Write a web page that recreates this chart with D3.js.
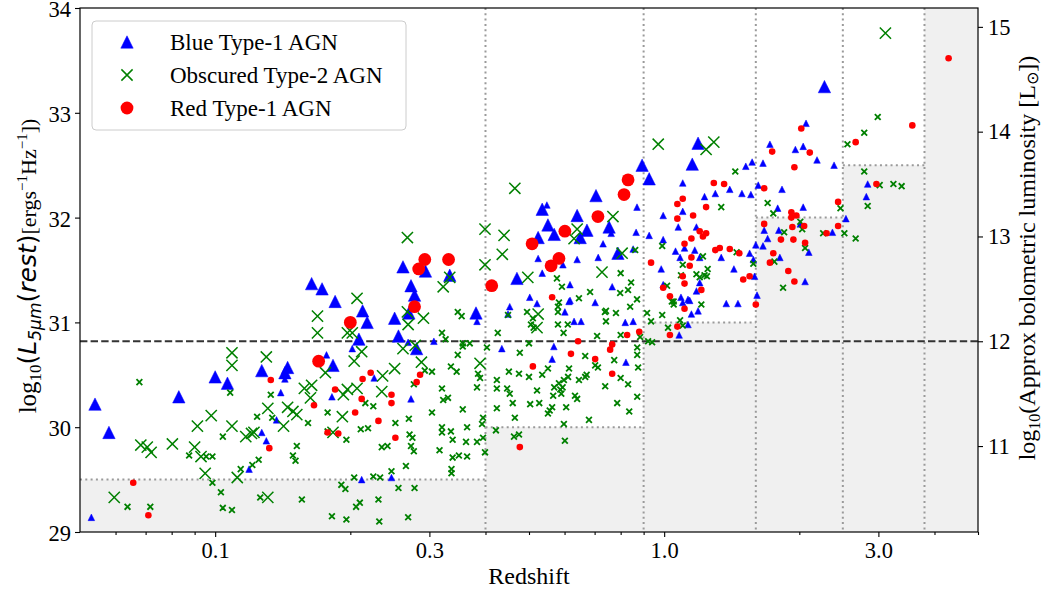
<!DOCTYPE html>
<html><head><meta charset="utf-8">
<script src="https://cdn.jsdelivr.net/npm/d3@7"></script>
<style>
body{margin:0;background:#fff}
text{font-family:"Liberation Serif","Times New Roman",serif;fill:#000}
</style>
</head><body>
<svg id="chart" width="1047" height="592"></svg>
<script>
// ---------------- DATA ----------------
const blueBigZ = [0.054,0.058,0.083,0.100,0.1065,0.127,0.145,0.143,0.164,0.173,0.185,0.183,0.209,0.213,0.218,0.251,0.256,0.262,0.270,0.273,0.278,0.281,0.294,0.333,0.381,0.470,0.535,0.551,0.569,0.524,0.640,0.673,0.650,0.705,0.754,0.789,0.893,0.926,1.155,1.19,2.275];
const blueBigL = [30.22,29.95,30.29,30.48,30.42,30.54,30.57,30.52,31.37,31.32,31.20,30.59,30.84,31.11,31.00,31.04,30.87,31.53,31.09,31.35,31.26,30.75,31.49,31.45,31.09,31.42,32.08,31.93,31.84,31.81,32.02,31.88,31.81,32.21,31.91,31.66,32.50,32.37,32.51,32.71,33.25];

const blueSmallZ = [0.053,0.140,0.143,0.137,0.127,0.130,0.119,0.177,0.182,0.202,0.226,0.273,0.269,0.212,0.247,0.307,0.383,0.453,0.449,0.521,0.601,0.614,0.630,0.653,0.702,0.568,0.563,0.435,0.819,0.853,0.822,1.10,1.14,1.19,1.15,1.13,1.08,1.375,1.46,0.548,0.524,0.535,0.595,0.640,0.731,0.713,0.762,0.853,0.870,0.866,0.766,0.617,0.502,0.617,0.926,0.995,0.995,1.075,1.10,1.10,1.06,1.085,1.11,1.17,1.18,1.18,1.09,1.13,1.20,0.985,0.995,1.20,1.23,1.30,1.40,1.49,1.56,1.52,1.57,1.66,1.62,1.83,1.72,1.96,2.04,2.07,2.19,2.39,1.34,1.43,1.55,1.58,1.59,1.60,1.61,1.67,1.70,1.66,1.79,1.80,1.81,2.04,2.01,2.10,2.06,2.37,2.54,2.84,2.82];
const blueSmallL = [29.14,30.33,30.46,30.07,29.95,29.87,29.60,30.69,30.29,30.75,30.47,30.27,30.81,29.50,29.52,30.82,31.01,31.15,31.08,31.18,31.10,31.20,31.01,31.01,31.19,30.77,30.65,30.75,31.00,31.01,30.62,31.19,31.21,31.11,31.08,30.98,30.88,31.18,31.18,32.12,31.61,31.47,31.55,31.60,31.75,31.62,31.85,31.70,32.10,31.86,31.34,31.36,31.24,31.21,31.83,32.02,31.79,31.91,32.33,32.06,31.68,31.62,31.71,31.69,31.91,31.30,31.24,31.22,31.62,31.51,31.36,31.38,32.20,32.23,32.27,32.23,32.22,32.49,32.53,32.52,32.31,32.27,32.70,32.65,32.68,32.90,32.55,32.50,31.62,31.51,31.66,31.60,31.44,31.74,31.26,31.88,31.80,31.73,32.09,31.88,31.62,32.10,31.94,31.67,31.39,31.86,31.99,32.32,32.20];

const greenBigZ = [0.0596,0.0683,0.0706,0.072,0.0803,0.090,0.093,0.0913,0.098,0.109,0.095,0.112,0.117,0.1205,0.122,0.109,0.109,0.130,0.131,0.131,0.145,0.149,0.152,0.142,0.158,0.164,0.163,0.176,0.183,0.192,0.193,0.197,0.207,0.204,0.212,0.202,0.169,0.169,0.235,0.236,0.251,0.262,0.269,0.291,0.288,0.389,0.524,0.521,0.268,0.207,0.197,0.322,0.333,0.268,0.279,0.399,0.399,0.465,0.440,0.436,0.497,0.640,0.630,0.769,0.727,0.806,0.97,1.29,1.24,3.11];
const greenBigL = [29.33,29.83,29.81,29.76,29.84,29.81,29.72,30.01,30.11,30.01,29.56,29.52,29.91,29.94,29.95,30.71,30.59,30.67,29.33,30.18,30.19,30.15,30.12,30.01,30.37,30.40,30.28,30.52,29.95,30.10,30.31,30.36,30.37,30.63,30.72,30.90,31.06,30.90,30.34,30.49,30.56,30.75,30.98,31.04,30.62,30.61,31.08,30.95,31.81,31.23,30.90,31.34,31.43,31.10,30.78,31.89,31.55,32.28,31.83,31.65,31.43,31.89,31.80,32.01,31.48,31.66,32.70,32.72,32.65,33.76];

const greenSmallZ = [0.0678,0.0638,0.0717,0.0875,0.0955,0.0986,0.0986,0.103,0.104,0.109,0.104,0.108,0.114,0.121,0.125,0.124,0.133,0.134,0.126,0.152,0.149,0.151,0.156,0.161,0.178,0.178,0.182,0.191,0.195,0.196,0.196,0.204,0.206,0.210,0.211,0.219,0.216,0.225,0.225,0.231,0.232,0.233,0.235,0.242,0.247,0.252,0.256,0.266,0.270,0.271,0.273,0.277,0.275,0.269,0.278,0.277,0.293,0.304,0.304,0.316,0.320,0.320,0.320,0.322,0.330,0.320,0.326,0.335,0.335,0.338,0.338,0.349,0.336,0.336,0.345,0.356,0.347,0.356,0.364,0.362,0.364,0.383,0.383,0.385,0.389,0.395,0.393,0.399,0.403,0.424,0.424,0.422,0.347,0.354,0.356,0.369,0.426,0.395,0.424,0.447,0.453,0.460,0.451,0.465,0.463,0.475,0.449,0.477,0.475,0.50,0.503,0.521,0.527,0.50,0.495,0.505,0.512,0.535,0.551,0.551,0.556,0.563,0.566,0.569,0.583,0.587,0.590,0.594,0.598,0.605,0.601,0.598,0.611,0.614,0.633,0.640,0.646,0.667,0.672,0.667,0.680,0.702,0.712,0.739,0.774,0.800,0.831,0.786,0.836,0.871,0.875,0.871,0.871,0.709,0.781,0.742,0.738,0.840,0.580,0.580,0.583,0.610,0.580,0.597,0.916,0.935,0.99,1.02,1.05,1.085,1.10,1.21,0.921,0.884,0.94,0.577,0.592,0.800,0.844,0.831,0.798,0.870,0.99,1.10,1.09,1.18,1.04,1.05,0.862,0.646,0.684,0.742,0.51,0.80,1.44,1.34,1.22,1.25,1.23,1.20,1.245,1.015,1.58,1.45,1.70,1.75,1.85,2.01,2.03,2.06,1.76,1.84,2.26,2.47,2.52,2.67,2.56,2.79,2.99,2.79,2.84,3.02,3.24,3.38];
const greenSmallL = [30.43,29.24,29.24,29.73,29.72,29.72,29.47,29.38,29.23,29.21,29.91,30.33,29.60,29.64,29.69,30.10,30.31,30.09,29.33,29.82,29.73,29.68,29.31,30.04,30.14,29.96,29.15,29.45,29.41,29.12,29.88,29.52,29.24,29.28,29.98,29.99,30.23,30.20,29.53,29.31,29.10,29.52,29.81,29.82,29.58,30.04,29.42,29.63,30.08,29.93,29.82,29.77,29.90,29.14,29.42,30.41,30.54,30.53,30.14,29.78,30.00,29.95,30.37,30.26,30.28,30.90,30.84,30.58,29.96,29.88,29.71,29.73,29.60,29.56,30.53,30.77,30.69,30.17,30.00,29.86,29.72,30.38,29.86,30.51,30.47,30.09,30.03,29.76,30.76,30.45,30.18,29.97,31.10,31.06,30.80,30.80,30.90,29.90,30.37,30.37,30.32,30.23,30.53,30.09,29.91,29.93,31.07,30.71,30.51,30.48,30.22,30.35,30.23,30.80,31.10,30.98,30.95,30.50,30.56,30.13,30.16,30.19,30.30,30.38,30.42,30.36,30.32,30.38,30.45,30.19,29.87,30.03,30.48,30.56,30.30,30.27,30.45,30.48,30.50,30.68,30.07,30.59,30.57,30.39,30.64,30.47,30.41,30.23,30.15,30.29,30.57,30.69,30.76,30.87,31.09,31.01,31.10,31.15,31.15,31.10,31.19,30.98,30.98,30.90,31.09,31.01,31.07,30.95,31.20,31.02,30.97,31.17,30.82,30.86,30.81,31.42,31.34,31.47,31.38,31.31,31.28,31.22,31.73,31.55,31.45,31.46,31.20,31.17,31.69,31.23,31.29,31.11,31.04,30.88,32.44,32.10,31.63,31.51,31.45,31.43,31.44,31.35,31.56,31.67,32.14,32.04,31.86,31.96,31.89,31.71,31.58,31.33,31.85,32.09,31.85,31.80,32.70,32.81,32.96,32.44,32.11,32.31,32.32,32.30];

const redBigZ = [0.170,0.200,0.278,0.284,0.293,0.331,0.413,0.508,0.560,0.583,0.601,0.712,0.814,0.831];
const redBigL = [30.63,31.00,31.15,31.51,31.60,31.60,31.35,31.75,31.54,31.61,31.87,32.01,32.22,32.36];

const redSmallZ = [0.0657,0.0710,0.133,0.132,0.166,0.185,0.222,0.213,0.212,0.205,0.178,0.188,0.231,0.247,0.247,0.252,0.281,0.286,0.477,0.510,0.620,0.643,0.702,0.758,0.766,0.766,0.827,0.880,1.03,1.07,1.11,1.60,0.563,0.935,0.995,1.03,1.07,1.10,1.07,1.16,1.11,1.15,1.15,1.14,1.10,1.11,1.20,1.24,1.29,1.36,1.24,1.22,1.21,1.30,1.33,1.40,1.47,1.55,1.50,1.67,1.74,2.02,2.11,1.95,1.67,1.92,1.97,1.92,1.93,2.05,1.82,1.94,2.06,1.75,1.72,1.89,1.95,2.30,2.44,2.44,2.67,2.97,3.57,4.30];
const redSmallL = [29.47,29.16,30.45,29.80,30.21,30.36,30.52,30.46,30.27,30.14,29.95,29.94,30.06,30.31,30.23,29.90,30.43,30.50,29.81,30.58,30.70,30.82,30.65,30.74,30.79,30.51,30.88,30.91,30.88,30.96,31.13,31.17,31.24,31.57,31.33,31.25,32.13,32.18,31.99,32.02,31.75,31.80,31.62,31.54,31.44,31.37,31.87,32.10,32.33,32.32,31.85,31.82,31.31,31.69,31.71,31.70,31.66,31.44,31.41,32.28,32.63,32.85,32.62,32.48,31.94,32.05,32.02,32.00,31.91,31.92,31.79,31.79,31.76,31.66,31.57,31.49,31.39,31.85,32.15,31.92,32.72,32.32,32.88,33.52];

// survey limit steps (redshift edges, limiting log L5um)
const limitEdgesZ = [0.05,0.4,0.9,1.6,2.5,3.8,5];
const limitL = [29.5,30.0,31.0,32.0,32.5,34];
const lbolThreshold = 12;          // log Lbol of dashed line
const lbolOffset = 18.82;          // log Lbol = log L5um - offset

const xTickVals = [0.1,0.3,1.0,3.0];
const xTickLabels = ["0.1","0.3","1.0","3.0"];
const xMinorVals = [0.06,0.07,0.08,0.09,0.2,0.4,0.5,0.6,0.7,0.8,0.9,2,4,5];
const yTickVals = [29,30,31,32,33,34];
const yRightTickVals = [11,12,13,14,15];
const legendLabels = ["Blue Type-1 AGN","Obscured Type-2 AGN","Red Type-1 AGN"];

// ---------------- CHART ----------------
const m = {left:80, right:978, top:8, bottom:532};
const svg = d3.select("#chart");
const x = d3.scaleLog().domain([0.05,5]).range([m.left,m.right]);
const y = d3.scaleLinear().domain([29,34]).range([m.bottom,m.top]);
const yR = d3.scaleLinear().domain([29-lbolOffset,34-lbolOffset]).range([m.bottom,m.top]);

svg.append("defs").append("clipPath").attr("id","clip")
  .append("rect").attr("x",m.left).attr("y",m.top).attr("width",m.right-m.left).attr("height",m.bottom-m.top);

const plot = svg.append("g").attr("clip-path","url(#clip)");

// shaded limits
const segs = d3.range(limitL.length).map(i=>({z0:limitEdgesZ[i],z1:limitEdgesZ[i+1],L:limitL[i]}));
plot.selectAll("rect.lim").data(segs).enter().append("rect")
  .attr("x",d=>x(d.z0)).attr("width",d=>x(d.z1)-x(d.z0))
  .attr("y",d=>y(d.L)).attr("height",d=>y(29)-y(d.L))
  .attr("fill","#f0f0f0");
const dotStyle = s=>s.attr("stroke","#9a9a9a").attr("stroke-width",2).attr("stroke-dasharray","2,3.3").attr("fill","none");
plot.selectAll("line.hl").data(segs.slice(0,-1)).enter().append("line")
  .attr("x1",d=>x(d.z0)).attr("x2",d=>x(d.z1)).attr("y1",d=>y(d.L)).attr("y2",d=>y(d.L)).call(dotStyle);
plot.selectAll("line.vl").data(limitEdgesZ.slice(1,-1)).enter().append("line")
  .attr("x1",d=>x(d)).attr("x2",d=>x(d)).attr("y1",m.top).attr("y2",m.bottom).call(dotStyle);
plot.append("line").attr("x1",m.left).attr("x2",m.right)
  .attr("y1",yR(lbolThreshold)).attr("y2",yR(lbolThreshold))
  .attr("stroke","#333").attr("stroke-width",1.8).attr("stroke-dasharray","7.4,3.2");

// markers
function markerPath(shape,s){
  if(shape==="tri") return `M0,${-s}L${s},${s}L${-s},${s}Z`;
  if(shape==="x") return `M${-s},${-s}L${s},${s}M${-s},${s}L${s},${-s}`;
  return null;
}
function drawSeries(zs,ls,shape,s,color,sw){
  const idx = d3.range(zs.length);
  const g = plot.append("g");
  if(shape==="circle"){
    g.selectAll("circle").data(idx).enter().append("circle")
      .attr("cx",i=>x(zs[i])).attr("cy",i=>y(ls[i])).attr("r",s).attr("fill",color);
  } else {
    g.selectAll("path").data(idx).enter().append("path")
      .attr("transform",i=>`translate(${x(zs[i])},${y(ls[i])})`)
      .attr("d",markerPath(shape,s))
      .attr("fill",shape==="tri"?color:"none")
      .attr("stroke",color).attr("stroke-width",shape==="tri"?0.5:sw);
  }
}
drawSeries(blueBigZ,blueBigL,"tri",6.2,"#0000ff");
drawSeries(blueSmallZ,blueSmallL,"tri",3.3,"#0000ff");
drawSeries(greenBigZ,greenBigL,"x",5.6,"#008000",1.5);
drawSeries(greenSmallZ,greenSmallL,"x",2.9,"#008000",1.8);
drawSeries(redBigZ,redBigL,"circle",6.4,"#ff0000");
drawSeries(redSmallZ,redSmallL,"circle",3.3,"#ff0000");

// axes
const fs = 22.5, lfs = 24;
svg.append("g").attr("transform",`translate(0,${m.bottom})`)
  .call(d3.axisBottom(x).tickValues(xTickVals).tickFormat((d,i)=>xTickLabels[i]).tickSize(5).tickSizeOuter(0).tickPadding(5));
svg.append("g").attr("transform",`translate(0,${m.bottom})`)
  .call(d3.axisBottom(x).tickValues(xMinorVals).tickFormat("").tickSize(3).tickSizeOuter(0));
const gl = svg.append("g").attr("transform",`translate(${m.left},0)`)
  .call(d3.axisLeft(y).tickValues(yTickVals).tickFormat(d3.format("d")).tickSize(5).tickSizeOuter(0).tickPadding(4));
svg.append("g").attr("transform",`translate(${m.right},0)`)
  .call(d3.axisRight(yR).tickValues(yRightTickVals).tickFormat(d3.format("d")).tickSize(5).tickSizeOuter(0).tickPadding(5));
svg.selectAll(".domain").remove();
svg.selectAll(".tick line").attr("stroke","#000").attr("stroke-width",1.1);
svg.selectAll(".tick text").attr("font-size",fs).attr("font-family","Liberation Serif, serif").attr("fill","#000");
gl.selectAll(".tick text").attr("dy","0.38em");

svg.append("rect").attr("x",m.left).attr("y",m.top).attr("width",m.right-m.left).attr("height",m.bottom-m.top)
  .attr("fill","none").attr("stroke","#000").attr("stroke-width",1.2);

// axis labels
svg.append("text").attr("x",(m.left+m.right)/2).attr("y",584).attr("text-anchor","middle")
  .attr("font-size",lfs).text("Redshift");

const yl = svg.append("text").attr("transform",`translate(36,266) rotate(-90)`)
  .attr("text-anchor","middle").attr("font-size",25);
const sans = "DejaVu Sans, sans-serif";
yl.append("tspan").text("log");
yl.append("tspan").attr("font-size",17).attr("dy",5).text("10");
yl.append("tspan").attr("dy",-5).attr("font-family",sans).text("(");
yl.append("tspan").attr("font-family",sans).attr("font-style","italic").text("L");
yl.append("tspan").attr("font-family",sans).attr("font-style","italic").attr("font-size",17).attr("dy",5).text("5μm");
yl.append("tspan").attr("dy",-5).attr("font-family",sans).text("(");
yl.append("tspan").attr("font-family",sans).attr("font-style","italic").text("rest");
yl.append("tspan").attr("font-family",sans).text(")");
yl.append("tspan").attr("font-size",22).text("[ergs");
yl.append("tspan").attr("font-size",15).attr("dy",-9).text("−1");
yl.append("tspan").attr("font-size",22).attr("dy",9).text("Hz");
yl.append("tspan").attr("font-size",15).attr("dy",-9).text("−1");
yl.append("tspan").attr("font-size",22).attr("dy",9).text("])");

const yr = svg.append("text").attr("transform",`translate(1035,258) rotate(-90)`)
  .attr("text-anchor","middle").attr("font-size",lfs);
yr.append("tspan").text("log");
yr.append("tspan").attr("font-size",16).attr("dy",5).text("10");
yr.append("tspan").attr("dy",-5).text("(Approx bolometric luminosity [L");
yr.append("tspan").attr("font-size",16).attr("dy",3).attr("font-family",sans).text("⊙");
yr.append("tspan").attr("dy",-3).text("])");

// legend
const lg = svg.append("g");
lg.append("rect").attr("x",92).attr("y",21).attr("width",314).attr("height",109).attr("rx",4)
  .attr("fill","#fff").attr("fill-opacity",0.8).attr("stroke","#cccccc").attr("stroke-width",1);
const legItems = [
  {label:legendLabels[0],shape:"tri",color:"#0000ff"},
  {label:legendLabels[1],shape:"x",color:"#008000"},
  {label:legendLabels[2],shape:"circle",color:"#ff0000"}];
legItems.forEach((d,i)=>{
  const cy = 42 + i*33;
  if(d.shape==="circle"){
    lg.append("circle").attr("cx",127).attr("cy",cy).attr("r",6.4).attr("fill",d.color);
  } else {
    lg.append("path").attr("transform",`translate(127,${cy})`).attr("d",markerPath(d.shape,d.shape==="tri"?6.2:5.6))
      .attr("fill",d.shape==="tri"?d.color:"none").attr("stroke",d.color).attr("stroke-width",d.shape==="tri"?0.5:1.5);
  }
  lg.append("text").attr("x",170).attr("y",cy+7.5).attr("font-size",23).text(d.label);
});
</script>
</body></html>
